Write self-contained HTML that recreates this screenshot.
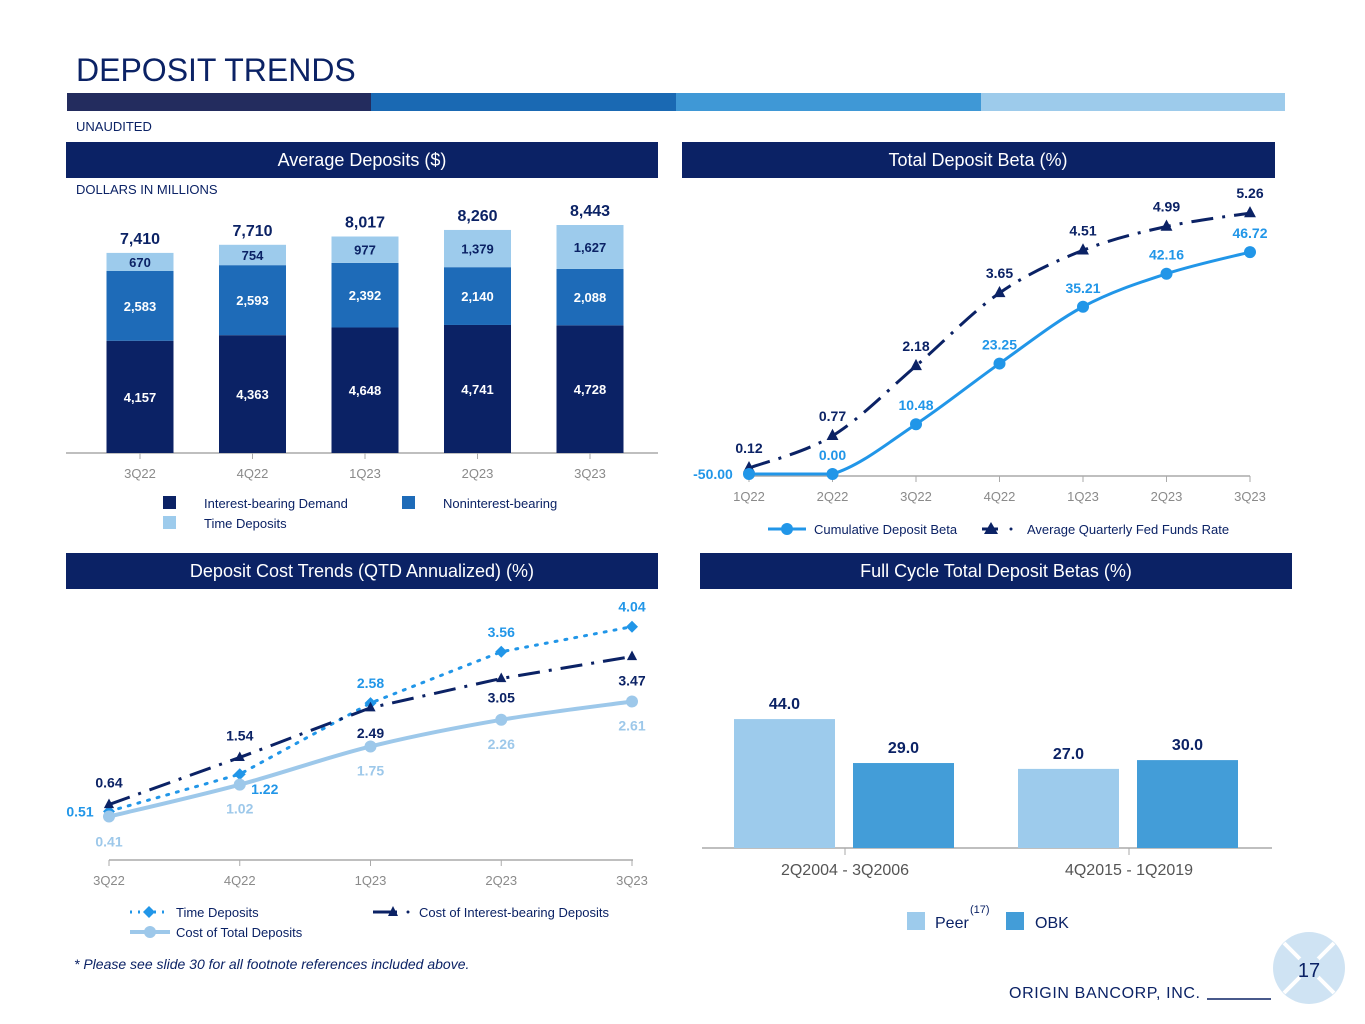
<!DOCTYPE html>
<html><head><meta charset="utf-8"><style>
html,body{margin:0;padding:0;background:#fff}
svg{display:block;font-family:"Liberation Sans",Arial,sans-serif}
</style></head><body>
<svg id="s" width="1365" height="1024" viewBox="0 0 1365 1024" xmlns="http://www.w3.org/2000/svg">
<text x="76" y="81" font-size="32" fill="#0b2265">DEPOSIT TRENDS</text>
<rect x="67" y="93" width="304" height="18" fill="#232c5e"/>
<rect x="371" y="93" width="305" height="18" fill="#1a69b3"/>
<rect x="676" y="93" width="305" height="18" fill="#3f98d6"/>
<rect x="981" y="93" width="304" height="18" fill="#9dcbeb"/>
<text x="76" y="131" font-size="13" fill="#0b2265">UNAUDITED</text>

<rect x="66" y="142" width="592" height="36" fill="#0b2265"/>
<text x="362" y="166" font-size="18" fill="#fff" text-anchor="middle">Average Deposits ($)</text>
<rect x="682" y="142" width="593" height="36" fill="#0b2265"/>
<text x="978" y="166" font-size="18" fill="#fff" text-anchor="middle">Total Deposit Beta (%)</text>
<rect x="66" y="553" width="592" height="36" fill="#0b2265"/>
<text x="362" y="577" font-size="18" fill="#fff" text-anchor="middle">Deposit Cost Trends (QTD Annualized) (%)</text>
<rect x="700" y="553" width="592" height="36" fill="#0b2265"/>
<text x="996" y="577" font-size="18" fill="#fff" text-anchor="middle">Full Cycle Total Deposit Betas (%)</text>
<text x="76" y="194" font-size="13" fill="#0b2265">DOLLARS IN MILLIONS</text>

<g id="c1"></g><g id="c2"></g><g id="c3"></g><g id="c4"></g>

<rect x="163" y="496" width="13" height="13" fill="#0b2265"/>
<text x="204" y="508" font-size="13" fill="#0b2265">Interest-bearing Demand</text>
<rect x="402" y="496" width="13" height="13" fill="#1e6bb8"/>
<text x="443" y="508" font-size="13" fill="#0b2265">Noninterest-bearing</text>
<rect x="163" y="516" width="13" height="13" fill="#9dcbec"/>
<text x="204" y="528" font-size="13" fill="#0b2265">Time Deposits</text>

<line x1="768" y1="529" x2="806" y2="529" stroke="#2196e8" stroke-width="3"/>
<circle cx="787" cy="529" r="6" fill="#2196e8"/>
<text x="814" y="534" font-size="13" fill="#0b2265">Cumulative Deposit Beta</text>
<line x1="982" y1="529" x2="998" y2="529" stroke="#0b2265" stroke-width="3"/>
<path d="M991,522 L998,534 L984,534Z" fill="#0b2265"/>
<circle cx="1011" cy="529" r="1.5" fill="#0b2265"/>
<text x="1027" y="534" font-size="13" fill="#0b2265">Average Quarterly Fed Funds Rate</text>

<line x1="130" y1="912" x2="168" y2="912" stroke="#2196e8" stroke-width="3" stroke-dasharray="2,6"/>
<path d="M149,906 L155,912 L149,918 L143,912Z" fill="#2196e8"/>
<text x="176" y="917" font-size="13" fill="#0b2265">Time Deposits</text>
<line x1="373" y1="912" x2="397" y2="912" stroke="#0b2265" stroke-width="3"/>
<path d="M393,906 L398,916 L388,916Z" fill="#0b2265"/>
<circle cx="408" cy="912" r="1.5" fill="#0b2265"/>
<text x="419" y="917" font-size="13" fill="#0b2265">Cost of Interest-bearing Deposits</text>
<line x1="130" y1="932" x2="170" y2="932" stroke="#9dc8ea" stroke-width="4"/>
<circle cx="150" cy="932" r="6" fill="#9dc8ea"/>
<text x="176" y="937" font-size="13" fill="#0b2265">Cost of Total Deposits</text>

<rect x="907" y="912" width="18" height="18" fill="#9dcbec"/>
<text x="935" y="928" font-size="16" fill="#0b2265">Peer</text>
<text x="970" y="913" font-size="11" fill="#0b2265">(17)</text>
<rect x="1006" y="912" width="18" height="18" fill="#439dd8"/>
<text x="1035" y="928" font-size="16" fill="#0b2265">OBK</text>

<text x="74" y="969" font-size="14" font-style="italic" fill="#0b2265">* Please see slide 30 for all footnote references included above.</text>
<text x="1009" y="998" font-size="16" fill="#0b2265" textLength="191">ORIGIN BANCORP, INC.</text>
<line x1="1207" y1="999" x2="1271" y2="999" stroke="#0b2265" stroke-width="1.5"/>
<g>
<circle cx="1309" cy="968" r="36" fill="#cfe3f3"/>
<line x1="1284" y1="943" x2="1334" y2="993" stroke="#fff" stroke-width="4"/>
<line x1="1334" y1="943" x2="1284" y2="993" stroke="#fff" stroke-width="4"/>
<circle cx="1309" cy="968" r="13" fill="#cfe3f3"/>
<text x="1309" y="977" font-size="20" fill="#0b2265" text-anchor="middle">17</text>
</g>
</svg>
<script>
// Average deposits
const quarters1 = ["3Q22","4Q22","1Q23","2Q23","3Q23"];
const ibDemand = [4157,4363,4648,4741,4728];
const nonIb = [2583,2593,2392,2140,2088];
const timeDep = [670,754,977,1379,1627];
const totals = [7410,7710,8017,8260,8443];
// Total deposit beta
const quarters2 = ["1Q22","2Q22","3Q22","4Q22","1Q23","2Q23","3Q23"];
const cumBeta = [-50.00,0.00,10.48,23.25,35.21,42.16,46.72];
const fedFunds = [0.12,0.77,2.18,3.65,4.51,4.99,5.26];
// Deposit cost
const quarters3 = ["3Q22","4Q22","1Q23","2Q23","3Q23"];
const costTime = [0.51,1.22,2.58,3.56,4.04];
const costIB = [0.64,1.54,2.49,3.05,3.47];
const costTotal = [0.41,1.02,1.75,2.26,2.61];
// Full cycle
const periods = ["2Q2004 - 3Q2006","4Q2015 - 1Q2019"];
const peerBeta = [44.0,27.0];
const obkBeta = [29.0,30.0];

const NS="http://www.w3.org/2000/svg";
function mk(parent,tag,attrs,txt){const e=document.createElementNS(NS,tag);for(const k in attrs)e.setAttribute(k,attrs[k]);if(txt!==undefined)e.textContent=txt;parent.appendChild(e);return e;}
const fmt=v=>v.toLocaleString('en-US');

(function(){
const g=document.getElementById('c1');
const base=453, k=228/8443, x0=140, dx=112.5, w=67;
const X=i=>x0+i*dx, H=v=>v*k;
let ax=mk(g,'line',{x1:66,y1:base,x2:658,y2:base,stroke:'#aaa','stroke-width':1.5});


quarters1.forEach((q,i)=>{
  let y=base;
  const segs=[[ibDemand[i],'#0b2265','#fff','ib-demand'],[nonIb[i],'#1e6bb8','#fff','nonib'],[timeDep[i],'#9dcbec','#0b2265','time']];
  segs.forEach(s=>{
    const h=H(s[0]); y-=h;
    const r=mk(g,'rect',{x:X(i)-w/2,y:y,width:w,height:h,fill:s[1]});
    
    
    const t=mk(g,'text',{x:X(i),y:y+h/2+5,'font-size':13,'font-weight':'bold',fill:s[2],'text-anchor':'middle'},fmt(s[0]));
    
    
  });
  const tt=mk(g,'text',{x:X(i),y:base-H(totals[i])-9,'font-size':16,'font-weight':'bold',fill:'#0b2265','text-anchor':'middle'},fmt(totals[i]));
  
  
  const tk=mk(g,'line',{x1:X(i),y1:base,x2:X(i),y2:base+6,stroke:'#aaa'});
  
  
  const tl=mk(g,'text',{x:X(i),y:base+25,'font-size':13,fill:'#8a8a8a','text-anchor':'middle'},q);
  
  
});
})();

function smooth(pts){let d='M'+pts[0][0]+','+pts[0][1];for(let i=0;i<pts.length-1;i++){const p0=pts[Math.max(0,i-1)],p1=pts[i],p2=pts[i+1],p3=pts[Math.min(pts.length-1,i+2)];const lo=Math.min(p1[1],p2[1]),hi=Math.max(p1[1],p2[1]);const cl=v=>Math.max(lo,Math.min(hi,v));const c1=[p1[0]+(p2[0]-p0[0])/6,cl(p1[1]+(p2[1]-p0[1])/6)],c2=[p2[0]-(p3[0]-p1[0])/6,cl(p2[1]-(p3[1]-p1[1])/6)];d+=' C'+c1+' '+c2+' '+p2;}return d;}
function tri(g,x,y,c,s){return mk(g,'path',{d:`M${x},${y-s} L${x+s*0.85},${y+s*0.6} L${x-s*0.85},${y+s*0.6}Z`,fill:c});}

(function(){
const g=document.getElementById('c2');
const base=474, x0=749, dx=83.5;
const X=i=>x0+i*dx, YB=v=>base-Math.max(0,v)*4.75, YF=v=>base-v*49.6;
const a=mk(g,'line',{x1:749,y1:476,x2:1250,y2:476,stroke:'#aaa','stroke-width':1.5});


quarters2.forEach((q,i)=>{
  const tk=mk(g,'line',{x1:X(i),y1:476,x2:X(i),y2:482,stroke:'#aaa'});
  
  
  const t=mk(g,'text',{x:X(i),y:501,'font-size':13,fill:'#8a8a8a','text-anchor':'middle'},q);
  
  
});
const fp=fedFunds.map((v,i)=>[X(i),YF(v)]);
const fl=mk(g,'path',{d:smooth(fp),fill:'none',stroke:'#0b2265','stroke-width':3,'stroke-dasharray':'22,9,3,9'});


const bp=cumBeta.map((v,i)=>[X(i),YB(v)]);
const bl=mk(g,'path',{d:smooth(bp),fill:'none',stroke:'#2196e8','stroke-width':3});


fp.forEach((p,i)=>{
  const m=tri(g,p[0],p[1],'#0b2265',7);
  
  
  const t=mk(g,'text',{x:p[0],y:p[1]-15,'font-size':14,'font-weight':'bold',fill:'#0b2265','text-anchor':'middle'},fedFunds[i].toFixed(2));
  
  
});
bp.forEach((p,i)=>{
  const c=mk(g,'circle',{cx:p[0],cy:p[1],r:6,fill:'#2196e8'});
  
  
  const first=i===0;
  const t=mk(g,'text',{x:first?p[0]-36:p[0],y:first?p[1]+5:p[1]-14,'font-size':14,'font-weight':'bold',fill:'#2196e8','text-anchor':'middle'},cumBeta[i].toFixed(2));
  
  
});
})();

(function(){
const g=document.getElementById('c3');
const x0=109, dx=130.75, y0=838, k=52.3, base=860;
const X=i=>x0+i*dx, Y=v=>y0-v*k;
const a=mk(g,'line',{x1:109,y1:base,x2:633,y2:base,stroke:'#aaa','stroke-width':1.5});


quarters3.forEach((q,i)=>{
  const tk=mk(g,'line',{x1:X(i),y1:base,x2:X(i),y2:base+6,stroke:'#aaa'});
  
  
  const t=mk(g,'text',{x:X(i),y:base+25,'font-size':13,fill:'#8a8a8a','text-anchor':'middle'},q);
  
  
});
const tp=costTime.map((v,i)=>[X(i),Y(v)]), ip=costIB.map((v,i)=>[X(i),Y(v)]), cp=costTotal.map((v,i)=>[X(i),Y(v)]);
const l1=mk(g,'path',{d:'M'+tp.join(' L'),fill:'none',stroke:'#2196e8','stroke-width':3,'stroke-dasharray':'2,8','stroke-linecap':'round'});


const l2=mk(g,'path',{d:'M'+ip.join(' L'),fill:'none',stroke:'#0b2265','stroke-width':3,'stroke-dasharray':'22,9,3,9'});


const l3=mk(g,'path',{d:smooth(cp),fill:'none',stroke:'#9dc8ea','stroke-width':4});


tp.forEach((p,i)=>{
  const m=mk(g,'path',{d:`M${p[0]},${p[1]-6} L${p[0]+6},${p[1]} L${p[0]},${p[1]+6} L${p[0]-6},${p[1]}Z`,fill:'#2196e8'});
  
  
  const off=i===0?[-29,5]:(i===1?[25,20]:[0,-15]);
  const t=mk(g,'text',{x:p[0]+off[0],y:p[1]+off[1],'font-size':14,'font-weight':'bold',fill:'#2196e8','text-anchor':'middle'},costTime[i].toFixed(2));
  
  
});
ip.forEach((p,i)=>{
  const m=tri(g,p[0],p[1],'#0b2265',6);
  
  
  const off=i<2?-17:(i===2?30:(i===3?24:29));
  const t=mk(g,'text',{x:p[0],y:p[1]+off,'font-size':14,'font-weight':'bold',fill:'#0b2265','text-anchor':'middle'},costIB[i].toFixed(2));
  
  
});
cp.forEach((p,i)=>{
  const c=mk(g,'circle',{cx:p[0],cy:p[1],r:6,fill:'#9dc8ea'});
  
  
  const t=mk(g,'text',{x:p[0],y:p[1]+(i===0?30:29),'font-size':14,'font-weight':'bold',fill:'#9dc8ea','text-anchor':'middle'},costTotal[i].toFixed(2));
  
  
});
})();

(function(){
const g=document.getElementById('c4');
const base=848, k=2.93, gx=[845,1129], w=101;
const H=v=>v*k;
const a=mk(g,'line',{x1:702,y1:base,x2:1272,y2:base,stroke:'#aaa','stroke-width':1.5});


periods.forEach((p,i)=>{
  [[peerBeta[i],'#9dcbec',-111,'peer'],[obkBeta[i],'#439dd8',8,'obk']].forEach(s=>{
    const x=gx[i]+s[2];
    const r=mk(g,'rect',{x:x,y:base-H(s[0]),width:w,height:H(s[0]),fill:s[1]});
    
    
    const t=mk(g,'text',{x:x+w/2,y:base-H(s[0])-10,'font-size':16,'font-weight':'bold',fill:'#0b2265','text-anchor':'middle'},s[0].toFixed(1));
    
    
  });
  const tk=mk(g,'line',{x1:gx[i],y1:base,x2:gx[i],y2:base+7,stroke:'#aaa'});
  
  
  const t=mk(g,'text',{x:gx[i],y:base+27,'font-size':16,fill:'#555','text-anchor':'middle'},p);
  
  
});
})();
</script>
</body></html>
